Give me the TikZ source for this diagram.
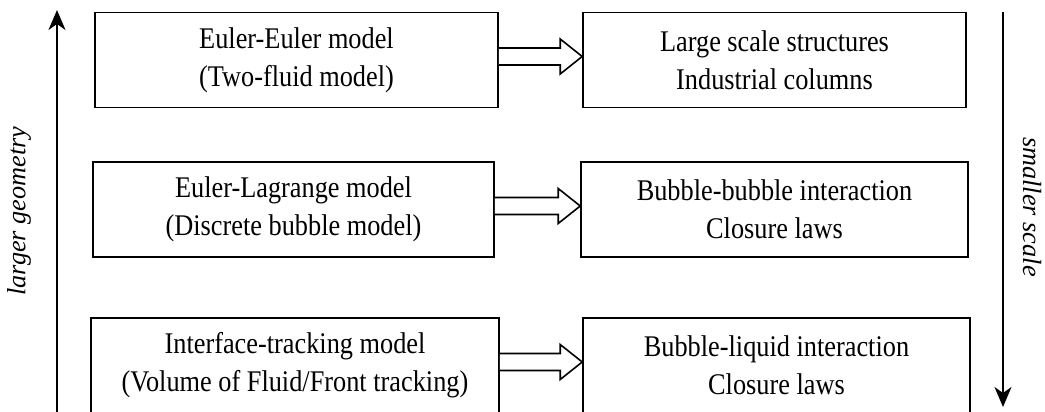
\documentclass[tikz,border=0pt]{standalone}
\usepackage{fontspec}
\setmainfont{Liberation Serif}
\newfontfamily\boxfont{Liberation Serif}[FakeStretch=0.877]
\usetikzlibrary{calc,arrows.meta}
\begin{document}
\begin{tikzpicture}[x=1pt,y=-1pt,
  box/.style={draw, line width=1.6pt, align=center, inner sep=0pt,
    minimum height=95pt, font=\boxfont\fontsize{30}{38}\selectfont},
  blk/.style={draw, line width=1.6pt, line join=miter, fill=white},
  axis/.style={line width=1.6pt, -{Stealth[length=20pt,width=17pt,inset=6pt]}},
  lab/.style={font=\fontsize{26.3}{32}\selectfont\itshape}]
\useasboundingbox (0,0) rectangle (1045,412);
\clip (0,0) rectangle (1045,412);
% boxes
\node[box, minimum width=403pt] (L1) at (296.5,60) {Euler-Euler model\\(Two-fluid model)};
\node[box, minimum width=383pt] (R1) at (774.5,60) {Large scale structures\\Industrial columns};
\node[box, minimum width=401pt] (L2) at (293.5,209.5) {Euler-Lagrange model\\(Discrete bubble model)};
\node[box, minimum width=387pt] (R2) at (774.5,209.5) {Bubble-bubble interaction\\Closure laws};
\node[box, minimum width=408pt] (L3) at (295,365.5) {Interface-tracking model\\(Volume of Fluid/Front tracking)};
\node[box, minimum width=387pt] (R3) at (776.5,365.5) {Bubble-liquid interaction\\Closure laws};
% block arrows
\foreach \a/\b in {L1/R1, L2/R2, L3/R3} {
  \draw[blk] ($(\a.east)+(0,-12)$) -- ($(\b.west)+(-22,-12)$)
    -- ($(\b.west)+(-22,-21)$) -- ($(\b.west)+(0,-3.5)$)
    -- ($(\b.west)+(-22,14)$) -- ($(\b.west)+(-22,5)$)
    -- ($(\a.east)+(0,5)$);
}
% side axes
\coordinate (lb) at (57,414);
\coordinate (lt) at (57,10);
\coordinate (rt) at (1003,12);
\coordinate (rb) at (1003,407);
\draw[axis] (lb) -- (lt);
\draw[axis] (rt) -- (rb);
\node[lab, rotate=90] (lg) at (19,211) {larger geometry};
\node[lab, rotate=-90] (ss) at (1032,207) {smaller scale};
\end{tikzpicture}
\end{document}
